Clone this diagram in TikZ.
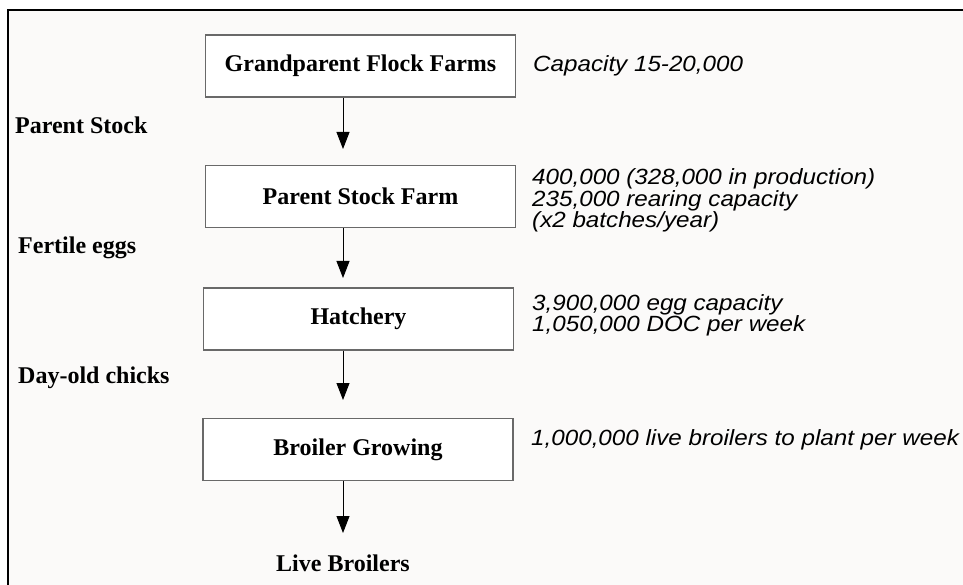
\documentclass[tikz,border=0pt]{standalone}
\usepackage{fontspec}
\setmainfont{Liberation Serif}
\newfontfamily\capfont[FakeStretch=1.1]{Liberation Sans}
\usetikzlibrary{arrows.meta}
\definecolor{bgpaper}{RGB}{251,250,249}
\definecolor{boxline}{RGB}{105,105,105}
\tikzset{
  stagebox/.style={draw=boxline, line width=1.3pt, fill=white, minimum width=310pt, minimum height=62pt, inner sep=0pt, font=\fontsize{24}{26}\selectfont\bfseries},
  sidelabel/.style={anchor=west, inner sep=0pt, font=\fontsize{24}{26}\selectfont\bfseries},
  capnote/.style={anchor=west, inner sep=0pt, align=left, font=\capfont\itshape\fontsize{22}{21.5}\selectfont},
  flowarrow/.style={line width=0.9pt, -{Triangle[width=13pt,length=17pt]}}
}
\begin{document}
\begin{tikzpicture}[x=1pt,y=-1pt]
\useasboundingbox (0,0) rectangle (963,585);
\fill[white] (0,0) rectangle (963,585);
\fill[bgpaper] (8,10) rectangle (963,585);
\draw[line width=2pt] (8,585) -- (8,10) -- (963,10);

\node[stagebox] (gp) at (360.5,66) {Grandparent Flock Farms};
\node[stagebox] (ps) at (360.5,196.5) {Parent Stock Farm};
\node[stagebox] (ha) at (358.5,319) {Hatchery};
\node[stagebox] (bg) at (358,449.5) {Broiler Growing};
\node[inner sep=0pt, font=\fontsize{24}{26}\selectfont\bfseries] (lb) at (343,563) {Live Broilers};

\node[sidelabel] (l1) at (15,125) {Parent Stock};
\node[sidelabel] (l2) at (18,248) {Fertile eggs};
\node[sidelabel] (l3) at (18,378) {Day-old chicks};

\node[capnote] (c1) at (533,66) {Capacity 15-20,000};
\node[capnote] (c2) at (532,200.5) {400,000 (328,000 in production)\\235,000 rearing capacity\\(x2 batches/year)};
\node[capnote] (c3) at (532,315.5) {3,900,000 egg capacity\\1,050,000 DOC per week};
\node[capnote] (c4) at (531,440) {1,000,000 live broilers to plant per week};

\coordinate (t1) at (343,149);
\coordinate (t2) at (343,278);
\coordinate (t3) at (343,400);
\coordinate (t4) at (343,533);
\draw[flowarrow] (gp.south -| t1) -- (t1);
\draw[flowarrow] (ps.south -| t2) -- (t2);
\draw[flowarrow] (ha.south -| t3) -- (t3);
\draw[flowarrow] (bg.south -| t4) -- (t4);
\end{tikzpicture}
\end{document}
